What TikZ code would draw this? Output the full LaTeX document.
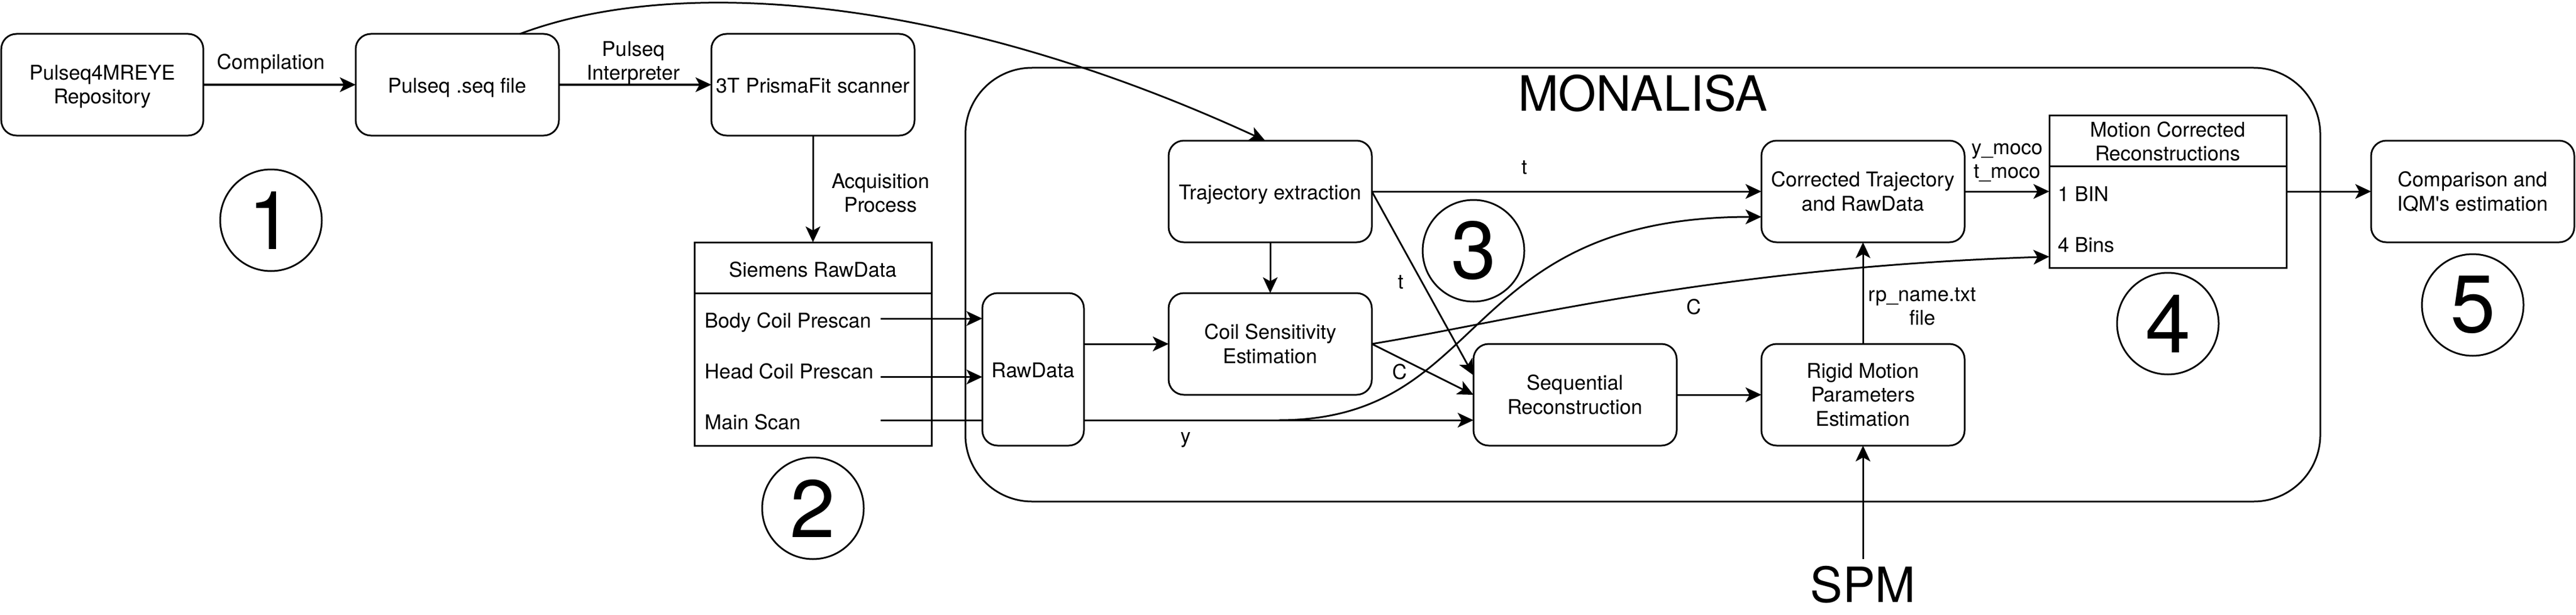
\documentclass[tikz,border=0pt]{standalone}
\usepackage{fontspec}
\setmainfont{TeX Gyre Heros}
\newfontfamily\hvplain{TeX Gyre Heros}
\usetikzlibrary{arrows.meta}
\tikzset{
  x=3pt,y=-3pt,
  every node/.style={inner sep=0pt,outer sep=0pt,font=\fontsize{36}{42.5}\selectfont},
  lab/.style={align=center,execute at begin node=\strut,execute at end node=\strut},
  lableft/.style={lab,anchor=west,yshift=-6pt},
  txt/.style={lab,yshift=-6pt},
  box/.style={draw,line width=3pt,rounded corners=27pt,fill=white,minimum width=360pt,minimum height=180pt},
  plainbox/.style={draw,line width=3pt,fill=white},
  num/.style={draw,circle,line width=3pt,minimum size=180pt,font=\fontsize{144}{168}\selectfont},
  big/.style={font=\fontsize{86}{100}\selectfont},
  conn/.style={line width=3pt,-{Stealth[length=28pt,width=26pt,inset=7pt]}},
  bare/.style={line width=3pt}
}
\begin{document}
\begin{tikzpicture}
\useasboundingbox (0,0) rectangle (1521,363);
\fill[white] (0,0) rectangle (1521,363);
% outer MONALISA container
\draw[bare,rounded corners=118pt] (570,40) rectangle (1370,296);
\node[big] (mona) at (970,55) {MONALISA};
% top row
\node[box,minimum width=358pt] (repo) at (60.4,50) {};
\node[txt] (trepo) at (repo) {Pulseq4MREYE\\Repository};
\node[box] (seq) at (270,50) {};
\node[txt] (tseq) at (seq) {Pulseq .seq file};
\node[box] (scanner) at (480,50) {};
\node[txt] (tscan) at (scanner) {3T PrismaFit scanner};
\node[txt] (lcomp) at (160,36) {Compilation};
\node[txt] (lpuls) at (374,36) {Pulseq\\Interpreter};
\node[txt] (lacq) at (520,114) {Acquisition\\Process};
\node[num] (n1) at (160,130) {1};
% Siemens table
\node[plainbox,minimum width=420pt,minimum height=360pt] (siemens) at (480,203) {};
\node[txt] (lsiem) at (480,158.5) {Siemens RawData};
\coordinate (shl) at (410,173);
\coordinate (shr) at (550,173);
\draw[bare] (shl) -- (shr);
\node[lableft] (lbody) at (416,188.5) {Body Coil Prescan};
\node[lableft] (lhead) at (416,218.5) {Head Coil Prescan};
\node[lableft] (lmain) at (416,248.5) {Main Scan};
\coordinate (bodyout) at (520,188);
\coordinate (headout) at (520,222.5);
\coordinate (mainout) at (520,248);
\node[num] (n2) at (480,300) {2};
% MONALISA content
\node[box,minimum height=270pt,minimum width=180pt] (raw) at (610,218) {};
\node[txt] (traw) at (raw) {RawData};
\node[box] (traj) at (750,113) {};
\node[txt] (ttraj) at (traj) {Trajectory extraction};
\node[box] (coil) at (750,203) {};
\node[txt] (tcoil) at (coil) {Coil Sensitivity\\Estimation};
\node[box] (recon) at (930,233) {};
\node[txt] (trecon) at (recon) {Sequential\\Reconstruction};
\node[box] (rigid) at (1100,233) {};
\node[txt] (trigid) at (rigid) {Rigid Motion\\Parameters\\Estimation};
\node[box] (corr) at (1100,113) {};
\node[txt] (tcorr) at (corr) {Corrected Trajectory\\and RawData};
\node[plainbox,minimum width=420pt,minimum height=270pt] (moco) at (1280,113) {};
\node[txt] (lmoco) at (1280,83.5) {Motion Corrected\\Reconstructions};
\coordinate (mhl) at (1210,98);
\coordinate (mhr) at (1350,98);
\draw[bare] (mhl) -- (mhr);
\node[lableft] (l1bin) at (1215,114) {1 BIN};
\node[lableft] (l4bin) at (1215,144) {4 Bins};
\node[box] (comp) at (1460,113) {};
\node[txt] (tcomp) at (comp) {Comparison and\\IQM{\hvplain'}s estimation};
\node[num] (n3) at (870,148) {3};
\node[num] (n4) at (1280,191) {4};
\node[num] (n5) at (1460,180) {5};
\node[big] (spm) at (1100,345) {SPM};
\coordinate (spmtop) at (1100,330);
% connector labels
\node[txt] (lt1) at (900,98) {t};
\node[txt] (lt2) at (827,165.5) {t};
\node[txt] (lc1) at (826.5,219) {C};
\node[txt] (lc2) at (1000,180.5) {C};
\node[txt] (ly) at (700,256.5) {y};
\node[txt] (lym) at (1185,95) {y\_moco\\t\_moco};
\node[txt] (lrp) at (1135,181) {rp\_name.txt\\file};
% connectors
\draw[conn] (repo.east) -- (seq.west);
\draw[conn] (seq.east) -- (scanner.west);
\draw[conn] (scanner.south) -- (siemens.north);
\coordinate (seqtop) at (307,20);
\coordinate (trajin) at (747,83);
\draw[conn] (seqtop) .. controls (400,-15) and (560,-3) .. (trajin);
\draw[conn] (bodyout) -- (bodyout -| raw.west);
\draw[conn] (headout) -- (headout -| raw.west);
\draw[bare] (mainout) -- (mainout -| raw.west);
\draw[conn] (mainout -| raw.east) -- (mainout -| recon.west);
\coordinate (ystart) at (755,248);
\coordinate (corrin) at (1040,128);
\draw[conn] (ystart) .. controls (880,248) and (860,128) .. (corrin);
\draw[conn] (raw.east |- coil.west) -- (coil.west);
\draw[conn] (traj.south) -- (coil.north);
\draw[conn] (traj.east) -- (corr.west);
\coordinate (reconup) at (870,221.5);
\draw[conn] (traj.east) -- (reconup);
\draw[conn] (coil.east) -- (recon.west);
\coordinate (mocoin) at (1210,151.5);
\draw[conn] (coil.east) .. controls (890,190) and (1010,158) .. (mocoin);
\draw[conn] (recon.east) -- (rigid.west);
\draw[conn] (rigid.north) -- (corr.south);
\draw[conn] (spmtop) -- (rigid.south);
\draw[conn] (corr.east) -- (corr.east -| moco.west);
\draw[conn] (moco.east) -- (comp.west);
\end{tikzpicture}
\end{document}
